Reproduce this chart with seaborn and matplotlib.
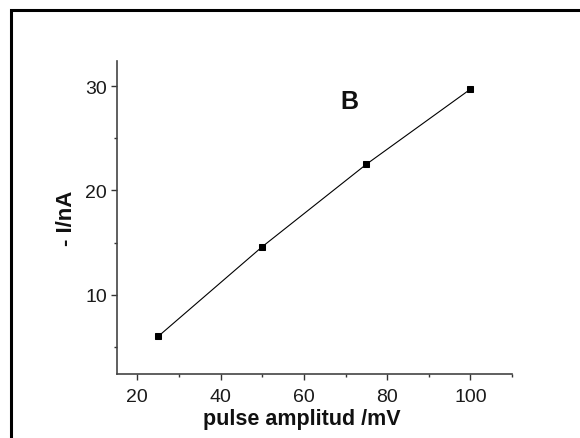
import matplotlib
matplotlib.use("Agg")
import matplotlib.pyplot as plt
import seaborn as sns
import pandas as pd
from matplotlib.patches import Rectangle
from matplotlib.ticker import MultipleLocator

amplitude = [25, 50, 75, 100]
current = [6.0, 14.6, 22.5, 29.7]
xticks = [20, 40, 60, 80, 100]
yticks = [10, 20, 30]

sns.set_theme(style="ticks")
plt.rcParams['font.family'] = ['Liberation Sans', 'DejaVu Sans']

df = pd.DataFrame({"amp": amplitude, "cur": current})

fig = plt.figure(figsize=(5.8, 4.39), dpi=100)
ax = fig.add_axes([0.2009, 0.1458, 0.682, 0.713])

sns.lineplot(data=df, x="amp", y="cur", ax=ax, color="black", linewidth=0.8,
             marker="s", markersize=5, markeredgecolor="black", markerfacecolor="black")

ax.set_xlim(15, 110)
ax.set_ylim(2.4, 32.4)
ax.set_xticks(xticks)
ax.set_yticks(yticks)
ax.xaxis.set_minor_locator(MultipleLocator(10))
ax.yaxis.set_minor_locator(MultipleLocator(5))
ax.tick_params(axis='both', which='major', length=4, width=1, labelsize=14, colors='#333333', labelcolor='#1a1a1a', pad=3)
ax.tick_params(axis='x', which='major', pad=6)
ax.tick_params(axis='both', which='minor', length=2.5, width=1, colors='#333333')
for s in ['top', 'right']:
    ax.spines[s].set_visible(False)
for s in ['left', 'bottom']:
    ax.spines[s].set_color('#444444')
    ax.spines[s].set_linewidth(1.2)

ax.set_xlabel("pulse amplitud /mV", fontsize=15.5, fontweight='bold', labelpad=2.5, color='#111111')
ax.xaxis.label.set_x(0.469)
ax.set_ylabel("- I/nA", fontsize=16, fontweight='bold', labelpad=6, color='#111111')
ax.text(70.9, 28.6, "B", fontsize=18, fontweight='bold', ha='center', va='center', color='#111111')

fig.patches.append(Rectangle((10.5 / 580, -0.1), 1.2, (439 - 10.5) / 439 + 0.1,
                             transform=fig.transFigure, fill=False,
                             edgecolor='black', linewidth=2.2, figure=fig))

fig.savefig("out.png", dpi=100)
